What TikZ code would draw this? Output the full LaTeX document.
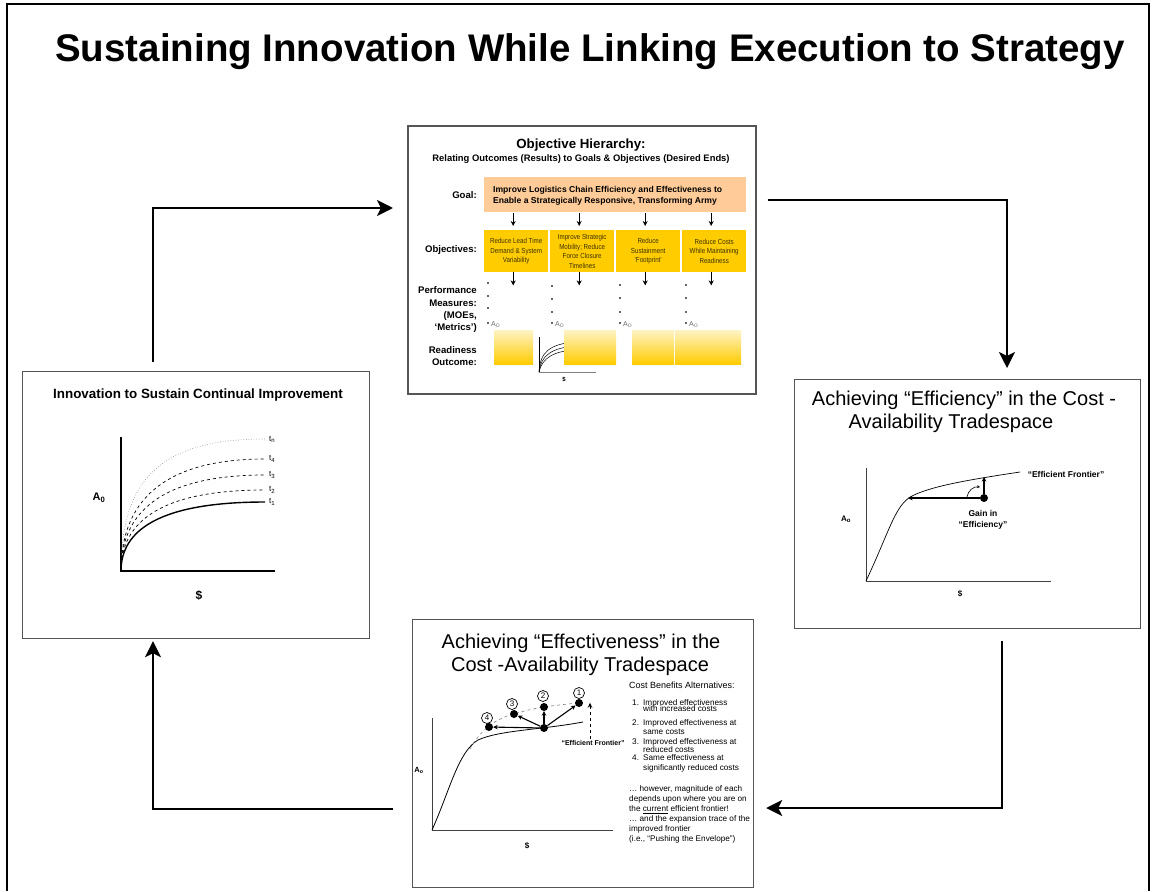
\documentclass[tikz,border=0pt]{standalone}
\usepackage{fontspec}
\setmainfont{Liberation Sans}
\newfontfamily\narrowfont[FakeStretch=0.85]{Liberation Sans}
\usetikzlibrary{arrows.meta,calc}

\definecolor{peach}{HTML}{FFCC99}
\definecolor{gold}{HTML}{FFCC00}
\definecolor{paleg}{HTML}{FFF3C4}
\definecolor{objink}{HTML}{3C3200}
\definecolor{framegray}{HTML}{555555}
\definecolor{dotgray}{HTML}{666666}

\newcommand\setfs[2]{\fontsize{#1}{#2}\selectfont}

\tikzset{
  panel/.style={draw=framegray, line width=1.2pt, fill=white, anchor=north west, inner sep=0pt},
  flow/.style={line width=2.6pt, -{Stealth[length=16pt,width=16pt,inset=4pt]}},
  smallarrow/.style={line width=1.3pt, -{Stealth[length=5pt,width=5pt]}},
  thinarrow/.style={line width=1.1pt, -{Stealth[length=4.5pt,width=4.5pt]}},
  txt/.style={inner sep=0pt, anchor=base},
  ltxt/.style={inner sep=0pt, anchor=base west},
  rtxt/.style={inner sep=0pt, anchor=base east},
  rowlabel/.style={rtxt, font=\setfs{9.6}{11}\bfseries},
  objbox/.style={fill=gold, anchor=north west, minimum width=64pt, minimum height=42pt,
    inner sep=1pt, align=center, text=objink, font=\narrowfont\setfs{7.3}{9.6}},
  readybox/.style={top color=paleg, bottom color=gold, anchor=north west, inner sep=0pt,
    minimum height=34pt},
  bigdot/.style={circle, fill=black, inner sep=0pt, minimum size=8pt},
  numcircle/.style={circle, draw, line width=0.7pt, inner sep=0pt, minimum size=11pt,
    font=\setfs{8}{9}},
  bodytxt/.style={ltxt, font=\setfs{8.2}{9}},
}

\begin{document}
\begin{tikzpicture}[x=1pt,y=-1pt]
\useasboundingbox (0,0) rectangle (1153,891);

% outer frame, open at the bottom edge of the page
\draw[line width=2.4pt] (7,891) -- (7,4) -- (1149,4) -- (1149,891);

\node[txt, font=\setfs{38.5}{44}\bfseries] (title) at (590,62)
  {Sustaining Innovation While Linking Execution to Strategy};

% ---------------- the four panels ----------------
\node[panel, minimum width=348pt, minimum height=268pt, line width=1.6pt] (hier) at (407,125) {};
\node[panel, minimum width=347pt, minimum height=267pt] (inno) at (22,371) {};
\node[panel, minimum width=346pt, minimum height=249pt] (eff) at (794,379) {};
\node[panel, minimum width=341pt, minimum height=268pt] (effect) at (412,619) {};

% ---------------- cycle connectors ----------------
\draw[flow] ($(inno.north west)+(131,-9)$) |- ($(hier.north west)+(-14,83)$);
\draw[flow] ($(hier.north east)+(11,75)$) -| ($(eff.north west)+(213,-11)$);
\draw[flow] ($(eff.south west)+(208,12)$) |- ($(effect.north east)+(12,189)$);
\draw[flow] ($(effect.north west)+(-19,190)$) -| ($(inno.south west)+(131,2)$);

% ---------------- objective hierarchy ----------------
\node[txt, font=\setfs{13.3}{16}\bfseries] (hiertitle) at (581,148) {Objective Hierarchy:};
\node[txt, font=\setfs{9.4}{10}\bfseries] (hiersub) at (581,161)
  {Relating Outcomes (Results) to Goals \& Objectives (Desired Ends)};

\node[fill=peach, anchor=north west, minimum width=262pt, minimum height=35pt, inner sep=0pt]
  (goal) at (484,177) {};
\node[ltxt, font=\setfs{8.6}{10}\bfseries] (goal1) at (493,192)
  {Improve Logistics Chain Efficiency and Effectiveness to};
\node[ltxt, font=\setfs{8.6}{10}\bfseries] (goal2) at (493,203)
  {Enable a Strategically Responsive, Transforming Army};

\node[rowlabel] (lgoal) at (477,198) {Goal:};
\node[rowlabel] (lobj) at (477,252) {Objectives:};
\node[rowlabel] (lpm1) at (477,293) {Performance};
\node[rowlabel] (lpm2) at (477,306) {Measures:};
\node[rowlabel] (lpm3) at (477,318) {(MOEs,};
\node[rowlabel] (lpm4) at (477,330) {‘Metrics’)};
\node[rowlabel] (lro1) at (477,353) {Readiness};
\node[rowlabel] (lro2) at (477,365) {Outcome:};

\node[objbox] (o1) at (484,230) {Reduce Lead Time\\Demand \& System\\Variability};
\node[objbox] (o2) at (550,230) {Improve Strategic\\Mobility; Reduce\\Force Closure\\Timelines};
\node[objbox] (o3) at (616,230) {Reduce\\Sustainment\\‘Footprint’};
\node[objbox] (o4) at (682,230) {Reduce Costs\\While Maintaining\\Readiness};

\foreach \i in {1,...,4}{
  \draw[smallarrow, shorten <=1pt, shorten >=4pt] ($(o\i.north |- goal.south)+(-3,0)$) -- ($(o\i.north)+(-3,0)$);
  \draw[smallarrow] ($(o\i.south)+(-3,0)$) -- ++(0,13);
}

% measure columns: dots and availability
\foreach \x/\a/\b/\c [count=\k] in {488/283/296/308, 552/286/299/312, 620/285/298/312, 686/285/298/312}{
  \foreach \y in {\a,\b,\c}{
    \fill[dotgray] (\x-0.8,\y-0.8) rectangle ++(1.6,1.6);
  }
  \fill[dotgray] (\x-0.8,322.2) rectangle ++(1.6,1.6);
  \node[ltxt, font=\setfs{7}{8}, text=dotgray] (ao\k) at (\x+3,326) {A\textsubscript{O}};
}

% small availability chart behind the second outcome box
\draw[line width=0.5pt] (539,372) .. controls (540,352) and (550,344) .. (575,342);
\draw[line width=0.5pt] (539,372) .. controls (541,355) and (552,348) .. (575,346);
\draw[line width=0.5pt] (539,372) .. controls (542,358) and (554,351) .. (575,350);
\draw[line width=0.9pt] (539,337) -- (539,372);
\draw[line width=0.9pt, gray] (539,372) -- (596,372);
\node[txt, font=\setfs{6}{7}\bfseries] (minidollar) at (564,381) {\$};

\node[readybox, minimum width=39pt] (r1) at (494,330) {};
\node[readybox, minimum width=52pt] (r2) at (564,330) {};
\node[readybox, minimum width=42pt] (r3) at (632,330) {};
\node[readybox, minimum width=66pt] (r4) at (675,330) {};

% ---------------- innovation panel ----------------
\node[txt, font=\setfs{13.4}{15}\bfseries] (innotitle) at (198,398)
  {Innovation to Sustain Continual Improvement};
\draw[line width=1.3pt] (121,437) -- (121,571) -- (275,571);
\draw[line width=0.6pt, gray, dotted] (121,571) .. controls (121,480) and (160,439) .. (265,439);
\draw[line width=0.7pt, dashed] (121,571) .. controls (121,504) and (160,459) .. (265,459);
\draw[line width=0.7pt, dashed] (121,571) .. controls (121,513) and (160,475) .. (265,475);
\draw[line width=0.7pt, dashed] (121,571) .. controls (121,522) and (160,490) .. (265,490);
\draw[line width=1.4pt] (121,571) .. controls (121,530) and (160,502) .. (265,502);
\foreach \lab/\y [count=\k] in {n/439, 4/459, 3/475, 2/490, 1/502}{
  \node[anchor=west, inner sep=0pt, font=\setfs{8}{9}] (tl\k) at (269,\y) {t\textsubscript{\lab}};
}
\node[font=\setfs{11}{12}\bfseries, inner sep=0pt] (innoA) at (99,498) {A\textsubscript{0}};
\node[font=\setfs{12}{13}\bfseries, inner sep=0pt] (innoD) at (199,595) {\$};

% ---------------- efficiency panel ----------------
\node[txt, font=\setfs{20}{23}] (efft1) at (964,405) {Achieving “Efficiency” in the Cost -};
\node[txt, font=\setfs{20}{23}] (efft2) at (951,428) {Availability Tradespace};
\draw[line width=0.9pt, darkgray] (866,468) -- (866,581) -- (1051,581);
\draw[line width=0.7pt] (866,581) .. controls (890,530) and (895,505) .. (912,496)
  .. controls (930,487) and (960,481) .. (1020,472);
\node[bigdot] (effdot) at (984,498) {};
\draw[thinarrow] (effdot) -- (908,498);
\draw[thinarrow] (effdot) -- (984,477);
\draw[line width=0.6pt, -{Stealth[length=3pt,width=3pt]}] (967,497) to[bend left=45] (980,487);
\node[txt, font=\setfs{8.5}{10}\bfseries] (efffront) at (1066,477) {“Efficient Frontier”};
\node[txt, font=\setfs{8.5}{10}\bfseries] (gain1) at (983,516) {Gain in};
\node[txt, font=\setfs{8.5}{10}\bfseries] (gain2) at (983,527) {“Efficiency”};
\node[txt, font=\setfs{8}{9}\bfseries] (effA) at (846,521) {A\textsubscript{o}};
\node[txt, font=\setfs{8}{9}\bfseries] (effD) at (960,596) {\$};

% ---------------- effectiveness panel ----------------
\node[txt, font=\setfs{20}{23}] (eftt1) at (581,648) {Achieving “Effectiveness” in the};
\node[txt, font=\setfs{20}{23}] (eftt2) at (580,671) {Cost -Availability Tradespace};
\draw[line width=0.9pt, darkgray] (432,718) -- (432,830) -- (613,830);
\draw[line width=0.8pt] (432,830) .. controls (450,790) and (458,752) .. (478,740)
  .. controls (500,730) and (540,730) .. (583,722);
\draw[line width=0.6pt, gray, dashed] (470,749) .. controls (478,735) and (490,720) .. (514,714)
  .. controls (530,709) and (545,706) .. (579,703);
\node[bigdot] (d0) at (544,728) {};
\node[bigdot] (d1) at (579,703) {};
\node[bigdot] (d2) at (544,707) {};
\node[bigdot] (d3) at (514,714) {};
\node[bigdot] (d4) at (489,727) {};
\foreach \k in {1,...,4}{ \draw[thinarrow] (d0) -- (d\k); }
\node[numcircle] (c1) at (579,693) {1};
\node[numcircle] (c2) at (543,696) {2};
\node[numcircle] (c3) at (512,704) {3};
\node[numcircle] (c4) at (487,718) {4};
\node[txt, font=\setfs{7}{8}\bfseries] (eftfront) at (593,745) {“Efficient Frontier”};
\draw[dashed, line width=0.9pt, -{Stealth[length=5pt,width=4.5pt]}]
  ($(eftfront.north)+(-3,-1)$) -- ++(0,-36);
\node[txt, font=\setfs{7.5}{9}\bfseries] (eftA) at (419,772) {A\textsubscript{o}};
\node[txt, font=\setfs{8}{9}\bfseries] (eftD) at (527,848) {\$};

\node[ltxt, font=\setfs{9}{10}] (cb) at (629,688) {Cost Benefits Alternatives:};
\foreach \n/\ya/\yb/\la/\lb in {
  1/705.5/711.5/{Improved effectiveness}/{with increased costs},
  2/725.5/734.5/{Improved effectiveness at}/{same costs},
  3/744.5/752.5/{Improved effectiveness at}/{reduced costs},
  4/760.5/770.5/{Same effectiveness at}/{significantly reduced costs}}{
  \node[bodytxt] (num\n) at (632,\ya) {\n.};
  \node[bodytxt] (ita\n) at (643,\ya) {\la};
  \node[bodytxt] (itb\n) at (643,\yb) {\lb};
}
\node[bodytxt] (p1) at (629,791.5) {… however, magnitude of each};
\node[bodytxt] (p2) at (629,801.5) {depends upon where you are on};
\node[bodytxt] (p3) at (629,811.5) {the \underline{current} efficient frontier!};
\node[bodytxt] (p4) at (629,821.5) {… and the expansion trace of the};
\node[bodytxt] (p5) at (629,831.5) {improved frontier};
\node[bodytxt] (p6) at (629,841.5) {(i.e., “Pushing the Envelope”)};

\end{tikzpicture}
\end{document}
